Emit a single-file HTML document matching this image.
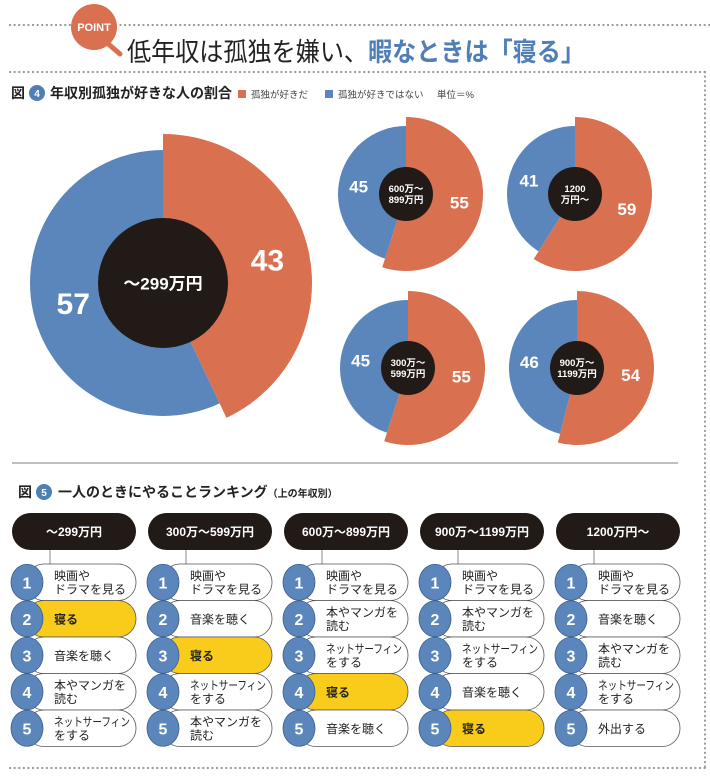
<!DOCTYPE html>
<html><head><meta charset="utf-8">
<style>
html,body{margin:0;padding:0;background:#fff;}
svg{display:block;}
text{font-family:"Liberation Sans","Noto Sans CJK JP",sans-serif;}
</style></head>
<body>
<svg id="root" width="710" height="781" viewBox="0 0 710 781" xmlns="http://www.w3.org/2000/svg">
  <line x1="10" y1="25" x2="710" y2="25" stroke="#999" stroke-width="2.2" stroke-dasharray="0.1 4.5" stroke-linecap="round"/>
  <line x1="10" y1="72" x2="705" y2="72" stroke="#999" stroke-width="2.2" stroke-dasharray="0.1 4.5" stroke-linecap="round"/>
  <line x1="705" y1="72" x2="705" y2="768" stroke="#999" stroke-width="2.2" stroke-dasharray="0.1 4.5" stroke-linecap="round"/>
  <line x1="10" y1="768" x2="705" y2="768" stroke="#999" stroke-width="2.2" stroke-dasharray="0.1 4.5" stroke-linecap="round"/>
  <g>
    <circle cx="94" cy="27" r="23" fill="#d9704f"/>
    <line x1="106" y1="42" x2="120" y2="54" stroke="#d9704f" stroke-width="5" stroke-linecap="round"/>
    <text x="94" y="31" text-anchor="middle" font-size="11" font-weight="bold" fill="#fff">POINT</text>
  </g>
  <text x="127" y="61" font-size="26" fill="#222" textLength="458" lengthAdjust="spacingAndGlyphs">低年収は孤独を嫌い、<tspan fill="#4f7fb4" font-weight="bold">暇なときは「寝る」</tspan></text>
  <g>
    <text x="11" y="98" font-size="14" font-weight="bold" fill="#222">図</text>
    <circle cx="37" cy="93" r="8" fill="#4f7fb4"/>
    <text x="37" y="97" text-anchor="middle" font-size="10" font-weight="bold" fill="#fff">4</text>
    <text x="50" y="98" font-size="14" font-weight="bold" fill="#222">年収別孤独が好きな人の割合</text>
  </g>
  <g>
    <rect x="238" y="90" width="8" height="8" fill="#d9704f"/>
    <text x="251" y="98" font-size="9.5" fill="#444">孤独が好きだ</text>
    <rect x="325" y="90" width="8" height="8" fill="#5b86bb"/>
    <text x="338" y="98" font-size="9.5" fill="#444">孤独が好きではない</text>
    <text x="437" y="98" font-size="9.5" fill="#444">単位＝%</text>
  </g>
  <g id="pies"></g>
  <line x1="12" y1="463" x2="678" y2="463" stroke="#aaa" stroke-width="1.5"/>
  <g>
    <text x="18" y="497" font-size="14" font-weight="bold" fill="#222">図</text>
    <circle cx="44" cy="492" r="8" fill="#4f7fb4"/>
    <text x="44" y="496" text-anchor="middle" font-size="10" font-weight="bold" fill="#fff">5</text>
    <text x="58" y="497" font-size="14" font-weight="bold" fill="#222">一人のときにやることランキング<tspan font-size="10">（上の年収別）</tspan></text>
  </g>
  <g id="ranks"></g>
</svg>
<script>
// Pie data (% who like being alone)
const pieLabels = ["～299万円", "600万～|899万円", "1200|万円～", "300万～|599万円", "900万～|1199万円"];
const likeValues = [43, 55, 59, 55, 54];
const dislikeValues = [57, 45, 41, 45, 46];

// Ranking data
const rankHeaders = ["～299万円", "300万～599万円", "600万～899万円", "900万～1199万円", "1200万円～"];
const rankItems = [
  ["映画や|ドラマを見る", "寝る", "音楽を聴く", "本やマンガを|読む", "ネットサーフィン|をする"],
  ["映画や|ドラマを見る", "音楽を聴く", "寝る", "ネットサーフィン|をする", "本やマンガを|読む"],
  ["映画や|ドラマを見る", "本やマンガを|読む", "ネットサーフィン|をする", "寝る", "音楽を聴く"],
  ["映画や|ドラマを見る", "本やマンガを|読む", "ネットサーフィン|をする", "音楽を聴く", "寝る"],
  ["映画や|ドラマを見る", "音楽を聴く", "本やマンガを|読む", "ネットサーフィン|をする", "外出する"]
];
const highlightItem = "寝る";

const NS = "http://www.w3.org/2000/svg";
function mk(tag, attrs, parent) {
  const e = document.createElementNS(NS, tag);
  for (const k in attrs) e.setAttribute(k, attrs[k]);
  if (parent) parent.appendChild(e);
  return e;
}
const pieLayout = [
  {cx:163, cy:283, rb:133, ro:149, ri:65, fs:30, cfs:17, lo:107, lb:92},
  {cx:406, cy:194, rb:68, ro:77, ri:27, fs:17, cfs:9.5, lo:54, lb:48},
  {cx:575, cy:194, rb:68, ro:77, ri:27, fs:17, cfs:9.5, lo:54, lb:48},
  {cx:408, cy:368, rb:68, ro:77, ri:27, fs:17, cfs:9.5, lo:54, lb:48},
  {cx:577, cy:368, rb:68, ro:77, ri:27, fs:17, cfs:9.5, lo:54, lb:48}
];
function angOf(pct) { return pct / 100 * 2 * Math.PI; }
function pt(cx, cy, r, a) { return [cx + r * Math.sin(a), cy - r * Math.cos(a)]; }
function sector(cx, cy, r, a0, a1) {
  const p0 = pt(cx, cy, r, a0), p1 = pt(cx, cy, r, a1);
  const large = (a1 - a0) > Math.PI ? 1 : 0;
  return `M${cx},${cy} L${p0[0]},${p0[1]} A${r},${r} 0 ${large} 1 ${p1[0]},${p1[1]} Z`;
}
const pies = document.getElementById("pies");
pieLabels.forEach((lab, i) => {
  const L = pieLayout[i];
  const g = mk("g", {}, pies);
  
  
  const aLike = angOf(likeValues[i]);
  const aTot = aLike + angOf(dislikeValues[i]);
  const pb = mk("path", {d: sector(L.cx, L.cy, L.rb, aLike, aTot), fill: "#5b86bb"}, g);
  
  
  const po = mk("path", {d: sector(L.cx, L.cy, L.ro, 0, aLike), fill: "#d9704f"}, g);
  
  
  const c = mk("circle", {cx: L.cx, cy: L.cy, r: L.ri, fill: "#221a17"}, g);
  
  
  const po2 = pt(L.cx, L.cy, L.lo, aLike / 2);
  const pb2 = pt(L.cx, L.cy, L.lb, (aLike + aTot) / 2);
  const t1 = mk("text", {x: po2[0], y: po2[1] + L.fs * 0.36, "text-anchor": "middle", "font-size": L.fs, "font-weight": "bold", fill: "#fff"}, g);
  t1.textContent = likeValues[i];
  
  
  const t2 = mk("text", {x: pb2[0], y: pb2[1] + L.fs * 0.36, "text-anchor": "middle", "font-size": L.fs, "font-weight": "bold", fill: "#fff"}, g);
  t2.textContent = dislikeValues[i];
  
  
  const lines = lab.split("|");
  lines.forEach((ln, j) => {
    const t = mk("text", {x: L.cx, y: L.cy + L.cfs * 0.38 + (j - (lines.length - 1) / 2) * L.cfs * 1.15, "text-anchor": "middle", "font-size": L.cfs, "font-weight": "bold", fill: "#fff"}, g);
    t.textContent = ln;
    
    
  });
});

const ranks = document.getElementById("ranks");
rankHeaders.forEach((h, ci) => {
  const x0 = 12 + ci * 136, w = 124;
  const g = mk("g", {}, ranks);
  
  
  const hr = mk("rect", {x: x0, y: 513, width: w, height: 37, rx: 18.5, fill: "#221a17"}, g);
  
  
  const ht = mk("text", {x: x0 + w / 2, y: 536, "text-anchor": "middle", "font-size": 12, "font-weight": "bold", fill: "#fff"}, g);
  ht.textContent = h;
  
  
  mk("line", {x1: x0 + w / 2 - 24, y1: 550, x2: x0 + w / 2 - 24, y2: 564, stroke: "#888", "stroke-width": 1}, g);
  rankItems[ci].forEach((it, ri) => {
    const y = 564 + ri * 36.5, hgt = 36.5;
    const hl = it === highlightItem;
    const row = mk("g", {}, g);
    
    
    mk("rect", {x: x0 + 14, y: y, width: w - 14, height: hgt, rx: 18, fill: hl ? "#f9cc1b" : "#fff", stroke: "#555", "stroke-width": 0.8}, row);
    mk("ellipse", {cx: x0 + 15, cy: y + hgt / 2, rx: 16, ry: 18, fill: "#5b86bb", stroke: "#3d5f8a", "stroke-width": 0.8}, row);
    const n = mk("text", {x: x0 + 15, y: y + hgt / 2 + 6, "text-anchor": "middle", "font-size": 16, "font-weight": "bold", fill: "#fff"}, row);
    n.textContent = ri + 1;
    const lines = it.split("|");
    lines.forEach((ln, j) => {
      const attrs = {x: x0 + 42, y: y + hgt / 2 + 4.5 + (j - (lines.length - 1) / 2) * 13.5, "font-size": 12, fill: "#222", "font-weight": hl ? "bold" : "normal"};
      if (ln.length > 6) { attrs.textLength = 76; attrs.lengthAdjust = "spacingAndGlyphs"; }
      const t = mk("text", attrs, row);
      t.textContent = ln;
    });
  });
});
</script>
</body></html>
